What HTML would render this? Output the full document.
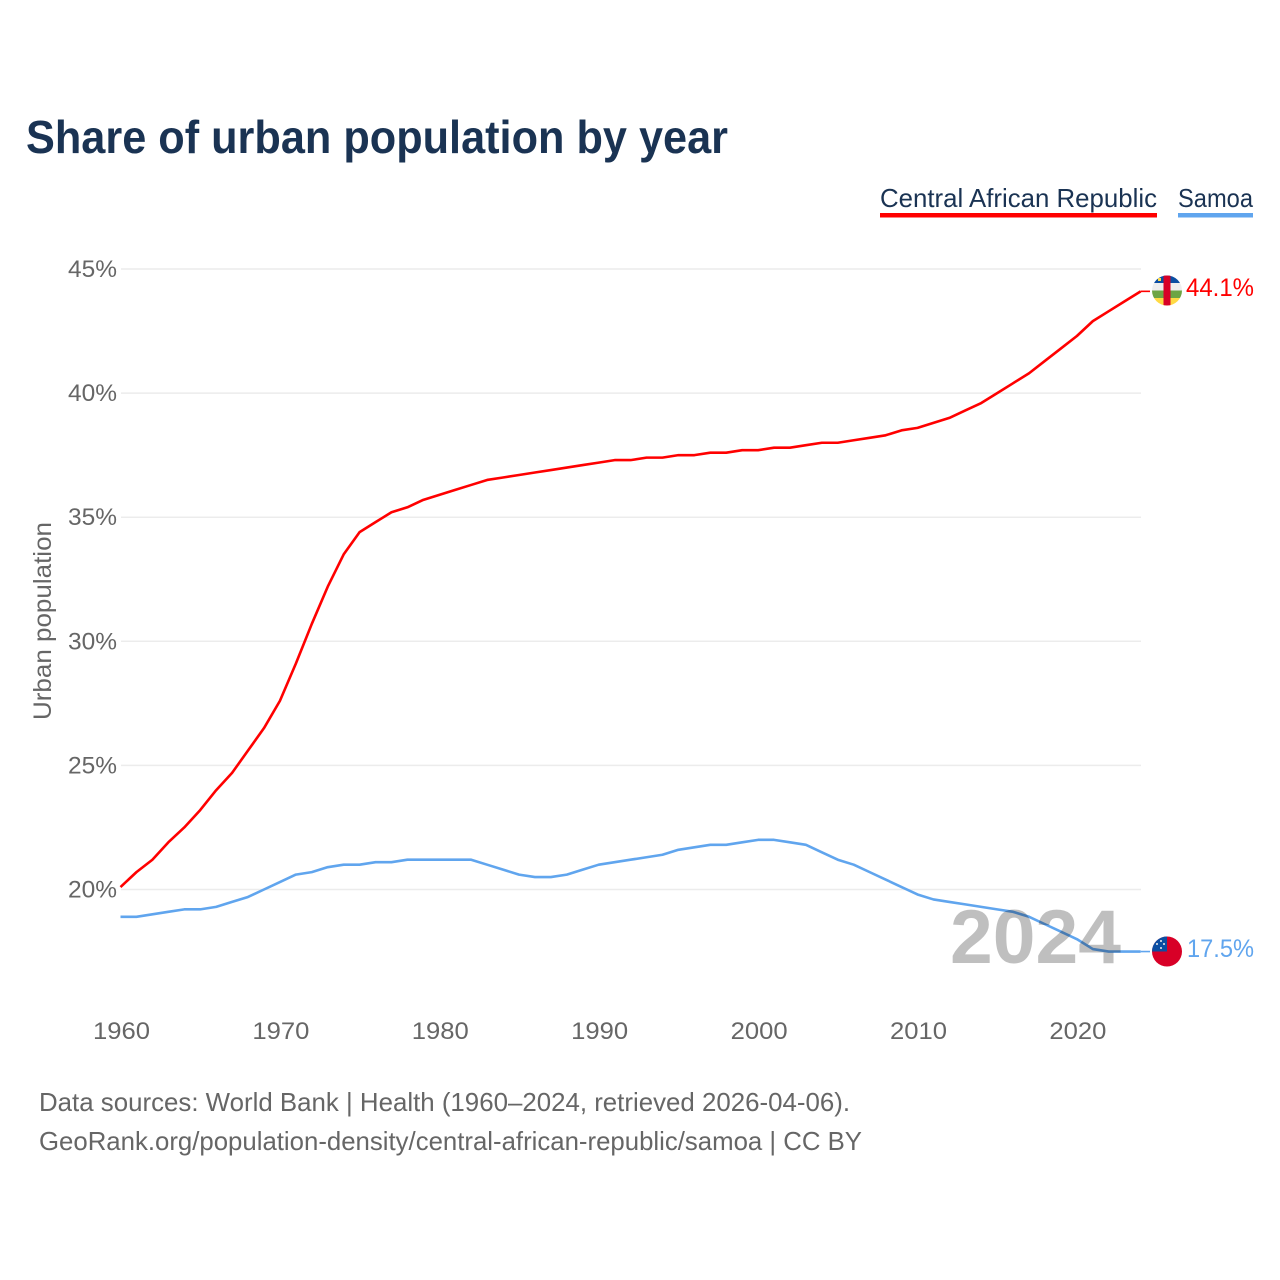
<!DOCTYPE html>
<html lang="en">
<head>
<meta charset="utf-8">
<title>Share of urban population by year</title>
<style>
html,body{margin:0;padding:0;background:#fff;}
svg{display:block;font-family:"Liberation Sans",sans-serif;}
</style>
</head>
<body>
<svg id="chart" xmlns="http://www.w3.org/2000/svg" width="1280" height="1280" viewBox="0 0 1280 1280">
  <defs>
    <clipPath id="clip-caf"><circle cx="1167" cy="290.5" r="15"/></clipPath>
    <clipPath id="clip-wsm"><circle cx="1167" cy="951.5" r="15"/></clipPath>
  </defs>
  <rect width="1280" height="1280" fill="#fff"/>
  <text x="26" y="153" font-size="46" font-weight="700" fill="#1a3353" textLength="702" lengthAdjust="spacingAndGlyphs">Share of urban population by year</text>

  <g>
    <text x="880" y="207" font-size="26" fill="#1a3353" textLength="277" lengthAdjust="spacingAndGlyphs">Central African Republic</text>
    <rect x="880" y="213" width="277" height="4.5" fill="#ff0000"/>
    <text x="1178" y="207" font-size="26" fill="#1a3353" textLength="75" lengthAdjust="spacingAndGlyphs">Samoa</text>
    <rect x="1178" y="213" width="75" height="4.5" fill="#60a5ee"/>
  </g>

  <g id="grid"></g>
  <g id="y-ticks"></g>
  <g id="x-ticks"></g>
  <text transform="translate(51 720) rotate(-90)" font-size="25" fill="#666" textLength="198" lengthAdjust="spacingAndGlyphs">Urban population</text>

  <g id="series"></g>

  <text x="950" y="963" font-size="76" font-weight="700" fill="#000" fill-opacity="0.25" textLength="171" lengthAdjust="spacingAndGlyphs">2024</text>

  <g clip-path="url(#clip-caf)">
    <rect x="1152" y="275.5" width="30" height="7.5" fill="#0b4ea2"/>
    <rect x="1152" y="283" width="30" height="7.5" fill="#eeeeee"/>
    <rect x="1152" y="290.5" width="30" height="7.5" fill="#6da544"/>
    <rect x="1152" y="298" width="30" height="7.5" fill="#ffda44"/>
    <rect x="1163.5" y="275.5" width="7" height="30" fill="#d80027"/>
    <rect x="1158" y="278" width="3" height="3" fill="#ffda44"/>
  </g>
  <g clip-path="url(#clip-wsm)">
    <rect x="1152" y="936.5" width="30" height="30" fill="#d80027"/>
    <rect x="1152" y="936.5" width="15" height="15" fill="#0b4ea2"/>
    <circle cx="1161" cy="941" r="1" fill="#eee"/>
    <circle cx="1157" cy="944" r="1" fill="#eee"/>
    <circle cx="1164" cy="944" r="1" fill="#eee"/>
    <circle cx="1161" cy="948" r="1" fill="#eee"/>
  </g>
  <text id="value-caf" x="1186" y="296" font-size="25" fill="#ff0000" textLength="68" lengthAdjust="spacingAndGlyphs"></text>
  <text id="value-wsm" x="1187" y="957" font-size="25" fill="#60a5ee" textLength="67" lengthAdjust="spacingAndGlyphs"></text>

  <text x="39" y="1111" font-size="26" fill="#666" textLength="811" lengthAdjust="spacingAndGlyphs">Data sources: World Bank | Health (1960–2024, retrieved 2026-04-06).</text>
  <text x="39" y="1150" font-size="26" fill="#666" textLength="823" lengthAdjust="spacingAndGlyphs">GeoRank.org/population-density/central-african-republic/samoa | CC BY</text>
</svg>
<script>
const startYear = 1960;
const yTickValues = [20, 25, 30, 35, 40, 45];
const xTickValues = [1960, 1970, 1980, 1990, 2000, 2010, 2020];
const centralAfricanRepublic = [20.1,20.7,21.2,21.9,22.5,23.2,24.0,24.7,25.6,26.5,27.6,29.1,30.7,32.2,33.5,34.4,34.8,35.2,35.4,35.7,35.9,36.1,36.3,36.5,36.6,36.7,36.8,36.9,37.0,37.1,37.2,37.3,37.3,37.4,37.4,37.5,37.5,37.6,37.6,37.7,37.7,37.8,37.8,37.9,38.0,38.0,38.1,38.2,38.3,38.5,38.6,38.8,39.0,39.3,39.6,40.0,40.4,40.8,41.3,41.8,42.3,42.9,43.3,43.7,44.1];
const samoa = [18.9,18.9,19.0,19.1,19.2,19.2,19.3,19.5,19.7,20.0,20.3,20.6,20.7,20.9,21.0,21.0,21.1,21.1,21.2,21.2,21.2,21.2,21.2,21.0,20.8,20.6,20.5,20.5,20.6,20.8,21.0,21.1,21.2,21.3,21.4,21.6,21.7,21.8,21.8,21.9,22.0,22.0,21.9,21.8,21.5,21.2,21.0,20.7,20.4,20.1,19.8,19.6,19.5,19.4,19.3,19.2,19.1,18.9,18.6,18.3,18.0,17.6,17.5,17.5,17.5];

const NS = 'http://www.w3.org/2000/svg';
function xScale(year) { return 120.5 + (year - 1960) * 15.94; }
function yScale(v) { return 889.5 - (v - 20) * 24.82; }
function linePath(values) {
  return values.map(function (v, i) {
    return (i ? 'L' : 'M') + xScale(startYear + i).toFixed(2) + ' ' + yScale(v).toFixed(2);
  }).join(' ');
}
function make(tag, attrs, parent, text) {
  const el = document.createElementNS(NS, tag);
  Object.keys(attrs).forEach(function (k) { el.setAttribute(k, attrs[k]); });
  if (text !== undefined) el.textContent = text;
  parent.appendChild(el);
  return el;
}

const grid = document.getElementById('grid');
const yTicks = document.getElementById('y-ticks');
yTickValues.forEach(function (v) {
  const g = make('line', {x1: 121, x2: 1141, y1: yScale(v), y2: yScale(v), stroke: '#ececec', 'stroke-width': 1.5}, grid);
  
  
  const t = make('text', {x: 68, y: yScale(v) + 8, 'font-size': 24, fill: '#666', textLength: 49, lengthAdjust: 'spacingAndGlyphs'}, yTicks, v + '%');
  
  
});

const xTicks = document.getElementById('x-ticks');
xTickValues.forEach(function (year) {
  const t = make('text', {x: xScale(year) - 27.5, y: 1039, 'font-size': 24, fill: '#666', textLength: 57, lengthAdjust: 'spacingAndGlyphs'}, xTicks, String(year));
  
  
});

const seriesGroup = document.getElementById('series');
function drawSeries(values, color, name) {
  const p = make('path', {d: linePath(values), fill: 'none', stroke: color, 'stroke-width': 2.6, 'stroke-linejoin': 'round'}, seriesGroup);
  
  
  const lastX = xScale(startYear + values.length - 1);
  const lastY = yScale(values[values.length - 1]);
  const l = make('line', {x1: lastX, x2: 1150, y1: lastY, y2: lastY, stroke: color, 'stroke-width': 1.6}, seriesGroup);
  
  
}
drawSeries(samoa, '#60a5ee', 'line-samoa');
drawSeries(centralAfricanRepublic, '#ff0000', 'line-central-african-republic');

document.getElementById('value-caf').textContent = centralAfricanRepublic[centralAfricanRepublic.length - 1].toFixed(1) + '%';
document.getElementById('value-wsm').textContent = samoa[samoa.length - 1].toFixed(1) + '%';
</script>
</body>
</html>
